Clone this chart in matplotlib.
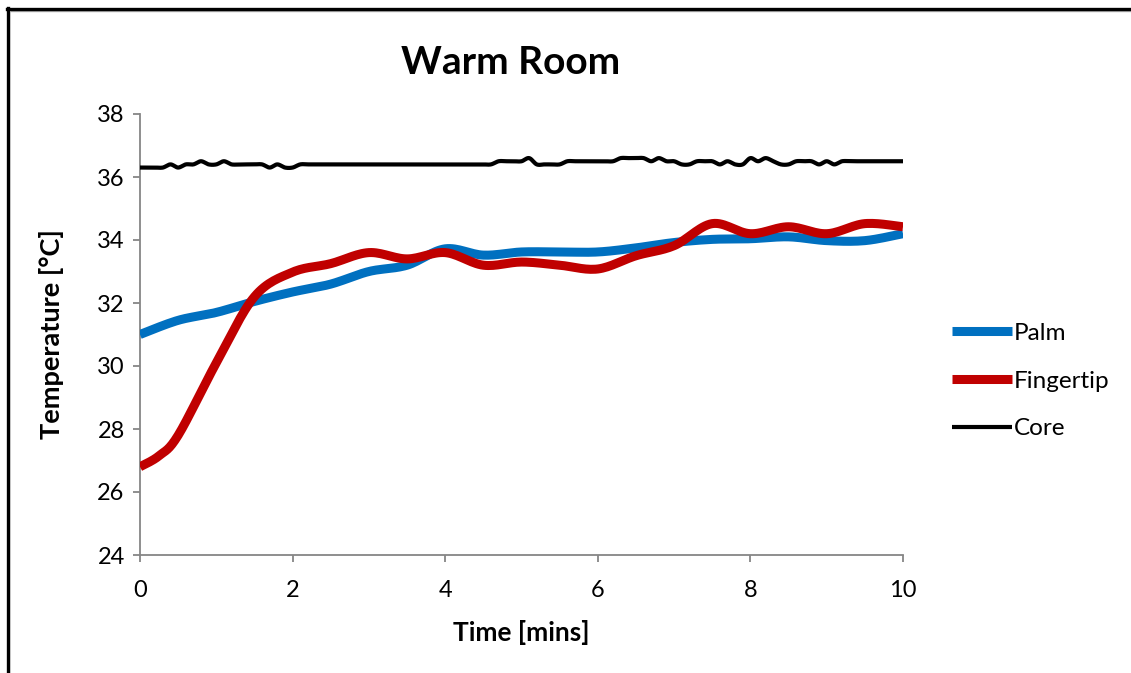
import numpy as np
import matplotlib
matplotlib.use("Agg")
import matplotlib.pyplot as plt
from matplotlib.lines import Line2D

# ---- data -------------------------------------------------------------
time_mins = [0, 0.5, 1, 1.5, 2, 2.5, 3, 3.5, 4, 4.5, 5,
             5.5, 6, 6.5, 7, 7.5, 8, 8.5, 9, 9.5, 10]
palm = [31.0, 31.45, 31.7, 32.05, 32.35, 32.6, 33.0, 33.2, 33.72, 33.52, 33.62,
        33.62, 33.62, 33.75, 33.92, 34.02, 34.04, 34.1, 33.98, 33.98, 34.2]

finger_time = [0, 0.25, 0.5, 1, 1.5, 2, 2.5, 3, 3.5, 4, 4.5, 5,
               5.5, 6, 6.5, 7, 7.5, 8, 8.5, 9, 9.5, 10]
fingertip = [26.8, 27.15, 27.8, 30.1, 32.2, 32.98, 33.25, 33.6, 33.4, 33.6, 33.2, 33.3,
             33.2, 33.08, 33.5, 33.82, 34.52, 34.2, 34.42, 34.2, 34.52, 34.42]

core_time = [round(0.1 * i, 1) for i in range(101)]
core = [36.3, 36.3, 36.3, 36.3, 36.4, 36.3, 36.4, 36.4, 36.5, 36.4,
        36.4, 36.5, 36.4, 36.4, 36.4, 36.4, 36.4, 36.3, 36.4, 36.3,
        36.3, 36.4, 36.4, 36.4, 36.4, 36.4, 36.4, 36.4, 36.4, 36.4,
        36.4, 36.4, 36.4, 36.4, 36.4, 36.4, 36.4, 36.4, 36.4, 36.4,
        36.4, 36.4, 36.4, 36.4, 36.4, 36.4, 36.4, 36.5, 36.5, 36.5,
        36.5, 36.6, 36.4, 36.4, 36.4, 36.4, 36.5, 36.5, 36.5, 36.5,
        36.5, 36.5, 36.5, 36.6, 36.6, 36.6, 36.6, 36.5, 36.6, 36.5,
        36.5, 36.4, 36.4, 36.5, 36.5, 36.5, 36.4, 36.5, 36.4, 36.4,
        36.6, 36.5, 36.6, 36.5, 36.4, 36.4, 36.5, 36.5, 36.5, 36.4,
        36.5, 36.4, 36.5, 36.5, 36.5, 36.5, 36.5, 36.5, 36.5, 36.5,
        36.5]

x_ticks = [0, 2, 4, 6, 8, 10]
y_ticks = [24, 26, 28, 30, 32, 34, 36, 38]


def smooth(x, y, steps=16):
    """Bezier smoothing through every point (Catmull-Rom style tangents)."""
    p = np.column_stack([x, y]).astype(float)
    ext = np.vstack([p[0], p, p[-1]])
    out = []
    u = np.linspace(0, 1, steps, endpoint=False)
    for i in range(len(p) - 1):
        p0, p1, p2, p3 = ext[i], ext[i + 1], ext[i + 2], ext[i + 3]
        c1 = p1 + (p2 - p0) / 6.0
        c2 = p2 - (p3 - p1) / 6.0
        b = ((1 - u) ** 3)[:, None] * p1 + (3 * (1 - u) ** 2 * u)[:, None] * c1 \
            + (3 * (1 - u) * u ** 2)[:, None] * c2 + (u ** 3)[:, None] * p2
        out.append(b)
    out.append(p[-1][None, :])
    out = np.vstack(out)
    return out[:, 0], out[:, 1]


plt.rcParams['font.family'] = ['Lato', 'DejaVu Sans']

W, H = 1131, 673
fig = plt.figure(figsize=(W / 100, H / 100), dpi=100)
ax = fig.add_axes([140 / W, 1 - 555 / H, (903 - 140) / W, (555 - 114) / H])

grey = '#868686'
blue = '#0070C0'
red = '#C00000'

sx, sy = smooth(time_mins, palm)
ax.plot(sx, sy, color=blue, lw=6.5, solid_capstyle='butt', label='Palm', zorder=3)
sx, sy = smooth(finger_time, fingertip)
ax.plot(sx, sy, color=red, lw=6.5, solid_capstyle='butt', label='Fingertip', zorder=4)
sx, sy = smooth(core_time, core)
ax.plot(sx, sy, color='black', lw=3.0, solid_capstyle='butt', label='Core', zorder=5)

ax.set_xlim(0, 10)
ax.set_ylim(24, 38)
ax.set_xticks(x_ticks)
ax.set_yticks(y_ticks)
ax.set_xticklabels([str(v) for v in x_ticks])
ax.set_yticklabels([str(v) for v in y_ticks])

for side in ('top', 'right'):
    ax.spines[side].set_visible(False)
for side in ('left', 'bottom'):
    ax.spines[side].set_color(grey)
    ax.spines[side].set_linewidth(1.3)
ax.tick_params(axis='both', direction='out', length=5, width=1.3, color=grey,
               labelsize=17, labelcolor='black', pad=6)
ax.tick_params(axis='x', pad=13)

ax.set_xlabel('Time [mins]', fontsize=19, fontweight='bold', labelpad=14)
ax.set_ylabel('Temperature [°C]', fontsize=19.5, fontweight='bold', labelpad=24)
fig.text(511 / W, 1 - 62 / H, 'Warm Room', fontsize=28, fontweight='bold',
         ha='center', va='center')

leg = fig.legend(loc='center left', bbox_to_anchor=(952 / W, 1 - 381 / H),
                 frameon=False, fontsize=17.5, handlelength=2.45, handletextpad=0.1,
                 labelspacing=1.1, borderpad=0, borderaxespad=0)

# outer chart frame (left and top edges)
fig.add_artist(Line2D([8.5 / W, 8.5 / W], [0, 1 - 9.5 / H], color='#A0A0A0', lw=1.0,
                      transform=fig.transFigure))
fig.add_artist(Line2D([10.5 / W, 1], [1 - 10.5 / H, 1 - 10.5 / H], color='#B0B0B0', lw=1.0,
                      transform=fig.transFigure))
fig.add_artist(Line2D([8 / W, 8 / W], [0, 1 - 8 / H], color='black', lw=2.4,
                      transform=fig.transFigure))
fig.add_artist(Line2D([7 / W, 1], [1 - 8.5 / H, 1 - 8.5 / H], color='black', lw=2.4,
                      transform=fig.transFigure))

fig.savefig('out.png', dpi=100)
